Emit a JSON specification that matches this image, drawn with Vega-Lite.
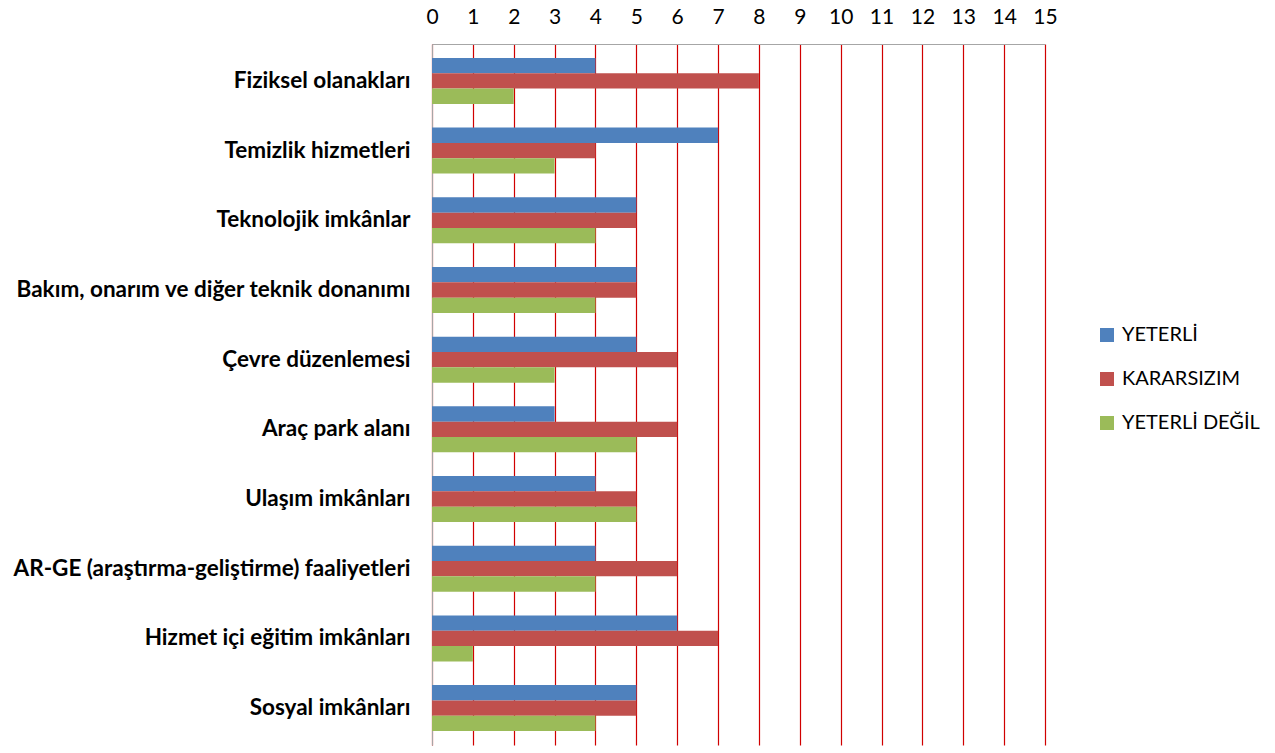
{
  "$schema": "https://vega.github.io/schema/vega-lite/v6.json",
  "width": 613,
  "height": 701,
  "autosize": {"type": "none"},
  "padding": {"left": 432, "top": 44, "right": 230, "bottom": 8},
  "background": "white",
  "config": {"view": {"stroke": null}, "font": "Lato"},
  "data": {"values": [
    {"cat": "Fiziksel olanakları", "s": "YETERLİ", "v": 4},
    {"cat": "Fiziksel olanakları", "s": "KARARSIZIM", "v": 8},
    {"cat": "Fiziksel olanakları", "s": "YETERLİ DEĞİL", "v": 2},
    {"cat": "Temizlik hizmetleri", "s": "YETERLİ", "v": 7},
    {"cat": "Temizlik hizmetleri", "s": "KARARSIZIM", "v": 4},
    {"cat": "Temizlik hizmetleri", "s": "YETERLİ DEĞİL", "v": 3},
    {"cat": "Teknolojik imkânlar", "s": "YETERLİ", "v": 5},
    {"cat": "Teknolojik imkânlar", "s": "KARARSIZIM", "v": 5},
    {"cat": "Teknolojik imkânlar", "s": "YETERLİ DEĞİL", "v": 4},
    {"cat": "Bakım, onarım ve diğer teknik donanımı", "s": "YETERLİ", "v": 5},
    {"cat": "Bakım, onarım ve diğer teknik donanımı", "s": "KARARSIZIM", "v": 5},
    {"cat": "Bakım, onarım ve diğer teknik donanımı", "s": "YETERLİ DEĞİL", "v": 4},
    {"cat": "Çevre düzenlemesi", "s": "YETERLİ", "v": 5},
    {"cat": "Çevre düzenlemesi", "s": "KARARSIZIM", "v": 6},
    {"cat": "Çevre düzenlemesi", "s": "YETERLİ DEĞİL", "v": 3},
    {"cat": "Araç park alanı", "s": "YETERLİ", "v": 3},
    {"cat": "Araç park alanı", "s": "KARARSIZIM", "v": 6},
    {"cat": "Araç park alanı", "s": "YETERLİ DEĞİL", "v": 5},
    {"cat": "Ulaşım imkânları", "s": "YETERLİ", "v": 4},
    {"cat": "Ulaşım imkânları", "s": "KARARSIZIM", "v": 5},
    {"cat": "Ulaşım imkânları", "s": "YETERLİ DEĞİL", "v": 5},
    {"cat": "AR-GE (araştırma-geliştirme) faaliyetleri", "s": "YETERLİ", "v": 4},
    {"cat": "AR-GE (araştırma-geliştirme) faaliyetleri", "s": "KARARSIZIM", "v": 6},
    {"cat": "AR-GE (araştırma-geliştirme) faaliyetleri", "s": "YETERLİ DEĞİL", "v": 4},
    {"cat": "Hizmet içi eğitim imkânları", "s": "YETERLİ", "v": 6},
    {"cat": "Hizmet içi eğitim imkânları", "s": "KARARSIZIM", "v": 7},
    {"cat": "Hizmet içi eğitim imkânları", "s": "YETERLİ DEĞİL", "v": 1},
    {"cat": "Sosyal imkânları", "s": "YETERLİ", "v": 5},
    {"cat": "Sosyal imkânları", "s": "KARARSIZIM", "v": 5},
    {"cat": "Sosyal imkânları", "s": "YETERLİ DEĞİL", "v": 4}
  ]},
  "mark": {"type": "bar"},
  "encoding": {
    "y": {
      "field": "cat", "type": "nominal", "sort": null,
      "scale": {"paddingInner": 0.34, "paddingOuter": 0.2},
      "axis": {"title": null, "ticks": false, "domainColor": "#A6A6A6", "labelFontWeight": "bold", "labelFontSize": 22.5, "labelColor": "#000000", "labelPadding": 22, "labelLimit": 500}
    },
    "yOffset": {"field": "s", "type": "nominal", "sort": ["YETERLİ", "KARARSIZIM", "YETERLİ DEĞİL"]},
    "x": {
      "field": "v", "type": "quantitative",
      "scale": {"domain": [0, 15], "nice": false},
      "axis": {"orient": "top", "title": null, "values": [0,1,2,3,4,5,6,7,8,9,10,11,12,13,14,15], "ticks": false, "domainColor": "#A6A6A6", "grid": true, "gridColor": "#D00000", "gridWidth": 1.2, "labelFontSize": 21, "labelColor": "#000000", "labelPadding": 17, "labelFlush": false}
    },
    "color": {
      "field": "s", "type": "nominal",
      "scale": {"domain": ["YETERLİ", "KARARSIZIM", "YETERLİ DEĞİL"], "range": ["#4F81BD", "#C0504D", "#9BBB59"]},
      "legend": {"title": null, "orient": "none", "legendX": 665, "legendY": 281, "symbolType": "square", "symbolSize": 196, "symbolStrokeWidth": 0, "symbolOpacity": 1, "labelFontSize": 20, "labelColor": "#000000", "rowPadding": 24, "labelOffset": 5, "padding": 0}
    }
  }
}
